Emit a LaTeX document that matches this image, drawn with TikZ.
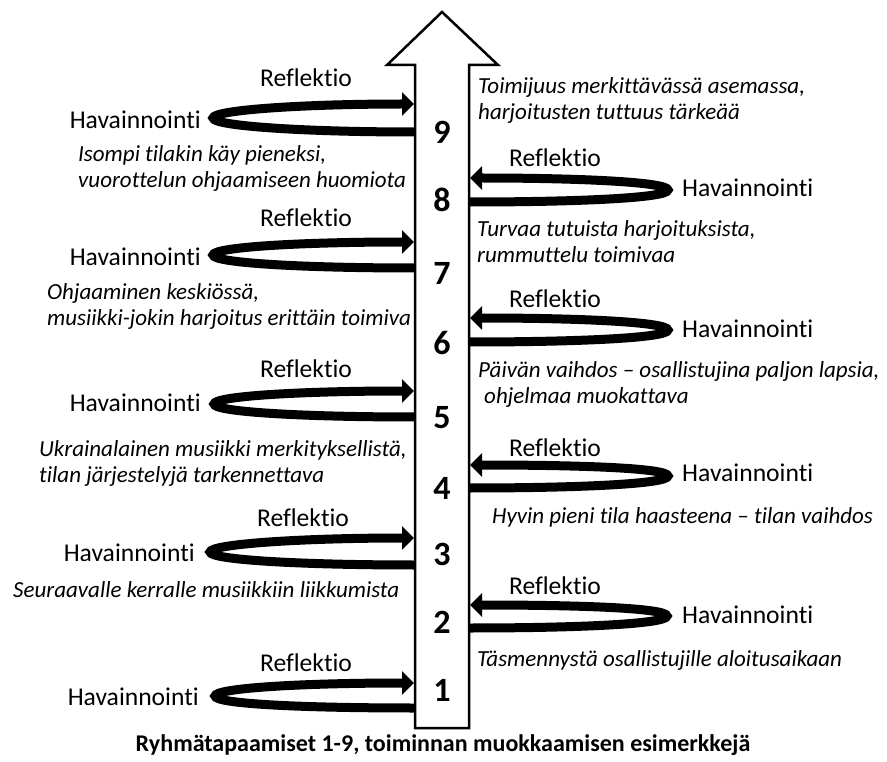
\documentclass[tikz,border=0pt]{standalone}
\usepackage{fontspec}
\setmainfont{Carlito}[Ligatures={NoCommon,NoRare,NoContextual}]
\usetikzlibrary{arrows.meta}

\begin{document}
\begin{tikzpicture}[x=1pt,y=-1pt,
    lbl/.style={font=\fontsize{25.6}{30}\selectfont,inner sep=0pt},
    note/.style={font=\fontsize{23}{26}\selectfont\itshape,anchor=west,align=left,inner sep=0pt},
    num/.style={font=\fontsize{34}{38}\selectfont\bfseries,inner sep=0pt},
    caption/.style={font=\fontsize{24}{28}\selectfont\bfseries,inner sep=0pt},
    band/.style={line width=9pt,-{Triangle[length=12pt,width=23pt]}},
    shaft/.style={line width=2.5pt,miter limit=20,fill=white}]
    \useasboundingbox (0,0) rectangle (887,762);
    \draw[shaft] (415,728) -- (415,65) -- (387,65) -- (442,12) -- (498,65) -- (469,65) -- (469,728) -- cycle;

    \draw (442,690) node[num] (n1) {1};
    \draw (442,622) node[num] (n2) {2};
    \draw (442,554) node[num] (n3) {3};
    \draw (442,488) node[num] (n4) {4};
    \draw (442,418) node[num] (n5) {5};
    \draw (442,343) node[num] (n6) {6};
    \draw (442,273) node[num] (n7) {7};
    \draw (442,200) node[num] (n8) {8};
    \draw (442,132) node[num] (n9) {9};

    \coordinate (a9) at (414,104); \coordinate (b9) at (415,132); \coordinate (c9) at (213,118);
    \coordinate (a8) at (470,178); \coordinate (b8) at (469,202); \coordinate (c8) at (668,190);
    \coordinate (a7) at (414,242); \coordinate (b7) at (415,268); \coordinate (c7) at (213,255);
    \coordinate (a6) at (470,318); \coordinate (b6) at (469,342); \coordinate (c6) at (668,330);
    \coordinate (a5) at (414,391); \coordinate (b5) at (415,417); \coordinate (c5) at (214,404);
    \coordinate (a4) at (470,465); \coordinate (b4) at (469,488); \coordinate (c4) at (668,476);
    \coordinate (a3) at (414,538); \coordinate (b3) at (415,565); \coordinate (c3) at (210,552);
    \coordinate (a2) at (470,605); \coordinate (b2) at (469,628); \coordinate (c2) at (667,616);
    \coordinate (a1) at (414,683); \coordinate (b1) at (415,708); \coordinate (c1) at (215,696);

    \draw[band] (b9) .. controls +(-111,0) and +(0,8) .. (c9) .. controls +(0,-8) and +(-111,0) .. (a9);
    \draw[band] (b7) .. controls +(-111,0) and +(0,8) .. (c7) .. controls +(0,-8) and +(-111,0) .. (a7);
    \draw[band] (b5) .. controls +(-111,0) and +(0,8) .. (c5) .. controls +(0,-8) and +(-111,0) .. (a5);
    \draw[band] (b3) .. controls +(-111,0) and +(0,8) .. (c3) .. controls +(0,-8) and +(-111,0) .. (a3);
    \draw[band] (b1) .. controls +(-111,0) and +(0,8) .. (c1) .. controls +(0,-8) and +(-111,0) .. (a1);
    \draw[band] (b8) .. controls +(109,0) and +(0,8) .. (c8) .. controls +(0,-8) and +(109,0) .. (a8);
    \draw[band] (b6) .. controls +(109,0) and +(0,8) .. (c6) .. controls +(0,-8) and +(109,0) .. (a6);
    \draw[band] (b4) .. controls +(109,0) and +(0,8) .. (c4) .. controls +(0,-8) and +(109,0) .. (a4);
    \draw[band] (b2) .. controls +(109,0) and +(0,8) .. (c2) .. controls +(0,-8) and +(109,0) .. (a2);

    \draw (201,120) node[lbl,anchor=east] (h9) {Havainnointi};
    \draw (201,257) node[lbl,anchor=east] (h7) {Havainnointi};
    \draw (201,403) node[lbl,anchor=east] (h5) {Havainnointi};
    \draw (195,553) node[lbl,anchor=east] (h3) {Havainnointi};
    \draw (199,697) node[lbl,anchor=east] (h1) {Havainnointi};
    \draw (682,188) node[lbl,anchor=west] (h8) {Havainnointi};
    \draw (682,329) node[lbl,anchor=west] (h6) {Havainnointi};
    \draw (682,473) node[lbl,anchor=west] (h4) {Havainnointi};
    \draw (682,615) node[lbl,anchor=west] (h2) {Havainnointi};

    \draw (306,78) node[lbl] (r9) {Reflektio};
    \draw (306,218) node[lbl] (r7) {Reflektio};
    \draw (306,369) node[lbl] (r5) {Reflektio};
    \draw (303,518) node[lbl] (r3) {Reflektio};
    \draw (306,663) node[lbl] (r1) {Reflektio};
    \draw (555,158) node[lbl] (r8) {Reflektio};
    \draw (555,299) node[lbl] (r6) {Reflektio};
    \draw (555,448) node[lbl] (r4) {Reflektio};
    \draw (555,586) node[lbl] (r2) {Reflektio};

    \draw (478,100) node[note] (t9) {Toimijuus merkittävässä asemassa,\\harjoitusten tuttuus tärkeää};
    \draw (78,168) node[note] (s9) {Isompi tilakin käy pieneksi,\\vuorottelun ohjaamiseen huomiota};
    \draw (477,242) node[note] (t8) {Turvaa tutuista harjoituksista,\\rummuttelu toimivaa};
    \draw (47,306) node[note] (s7) {Ohjaaminen keskiössä,\\musiikki-jokin harjoitus erittäin toimiva};
    \draw (478,384) node[note] (t6) {Päivän vaihdos – osallistujina paljon lapsia,\\\hspace{6pt}ohjelmaa muokattava};
    \draw (39,463) node[note] (s5) {Ukrainalainen musiikki merkityksellistä,\\tilan järjestelyjä tarkennettava};
    \draw (492,517) node[note] (t4) {Hyvin pieni tila haasteena – tilan vaihdos};
    \draw (13,590) node[note] (s3) {Seuraavalle kerralle musiikkiin liikkumista};
    \draw (477,660) node[note] (t2) {Täsmennystä osallistujille aloitusaikaan};

    \draw (443,745) node[caption] (title) {Ryhmätapaamiset 1-9, toiminnan muokkaamisen esimerkkejä};
\end{tikzpicture}
\end{document}
